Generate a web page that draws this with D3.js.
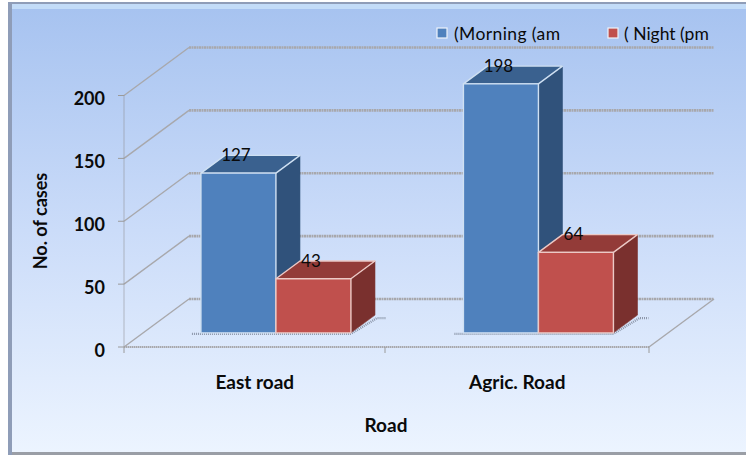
<!DOCTYPE html>
<html>
<head>
<meta charset="utf-8">
<script src="https://cdn.jsdelivr.net/npm/d3@7"></script>
<style>
html,body{margin:0;padding:0;background:#fff}
svg{display:block}
text{font-family:Lato,"Open Sans",sans-serif;fill:#0a0a0a}
</style>
</head>
<body>
<svg id="chart" width="746" height="456"></svg>
<script>
const categories = ["East road", "Agric. Road"];
const seriesNames = ["(Morning (am", "( Night (pm"];
const morning = [127, 198];
const night = [43, 64];
const yTicks = [0, 50, 100, 150, 200];

const palette = [
  {front: "#4f81bd", top: "#3a618f", side: "#30527b", edge: "#cfe0f2"},
  {front: "#c0504d", top: "#933b38", side: "#7a302e", edge: "#ecc9c6"}
];

const svg = d3.select("#chart");

// Chart panel: vertical gradient with a bevelled frame
const defs = svg.append("defs");
const grad = defs.append("linearGradient").attr("id", "panel")
  .attr("x1", 0).attr("y1", 0).attr("x2", 0).attr("y2", 1);
grad.append("stop").attr("offset", "0%").attr("stop-color", "#a7c3f0");
grad.append("stop").attr("offset", "50%").attr("stop-color", "#cbdcf9");
grad.append("stop").attr("offset", "100%").attr("stop-color", "#ecf4ff");

svg.append("rect").attr("x", 8).attr("y", 2).attr("width", 738).attr("height", 453).attr("fill", "#8f9db8");
svg.append("rect").attr("x", 12).attr("y", 4).attr("width", 734).attr("height", 5).attr("fill", "#c3dcf8");
svg.append("rect").attr("x", 12).attr("y", 9).attr("width", 734).attr("height", 443).attr("fill", "url(#panel)");
svg.append("rect").attr("x", 12).attr("y", 452).attr("width", 734).attr("height", 3).attr("fill", "#9a9ea6");

// Oblique projection: depth d runs 0 (front of floor) to 1 (back wall)
const depthX = 65, depthY = 48;
const y = d3.scaleLinear().domain([0, 200]).range([347, 95.5]);
const xCat = d3.scaleBand().domain(categories).range([124, 649]);
const xSer = d3.scaleBand().domain(seriesNames).range([0, xCat.bandwidth()])
  .paddingInner(0).paddingOuter(0.75);
const px = (x, d) => x + depthX * d;
const py = (v, d) => y(v) - depthY * d;
const barFront = 0.295, barBack = 0.665, barShift = 1.5;

const pts = list => list.map(p => p.join(",")).join(" ");
const xLeft = xCat.range()[0], xRight = xCat.range()[1];

// Gridlines: diagonal along the side wall, then across the back wall
const grid = svg.append("g").attr("fill", "none").attr("stroke", "#a8a8ac");
yTicks.forEach(t => {
  grid.append("line")
    .attr("x1", px(xLeft, 0)).attr("y1", py(t, 0))
    .attr("x2", px(xLeft, 1)).attr("y2", py(t, 1))
    .attr("stroke-width", 1.4);
  grid.append("line")
    .attr("x1", px(xLeft, 1)).attr("y1", py(t, 1))
    .attr("x2", px(xRight, 1)).attr("y2", py(t, 1))
    .attr("stroke-width", 2.6).attr("stroke-dasharray", "2 0.5");
});

// Floor edges and axis lines
const axisGrp = svg.append("g").attr("fill", "none").attr("stroke", "#a8a8ac");
axisGrp.append("line")
  .attr("x1", xLeft).attr("y1", y(0)).attr("x2", xRight).attr("y2", y(0))
  .attr("stroke-width", 1.8).attr("stroke-dasharray", "1.5 0.5");
axisGrp.append("line")
  .attr("x1", xRight).attr("y1", y(0)).attr("x2", px(xRight, 1)).attr("y2", py(0, 1))
  .attr("stroke-width", 1.4);
axisGrp.append("line")
  .attr("x1", xLeft).attr("y1", y(200)).attr("x2", xLeft).attr("y2", y(0))
  .attr("stroke-width", 1.1).attr("stroke-dasharray", "1 1").attr("stroke", "#8f8f92");
yTicks.forEach(t => {
  axisGrp.append("line").attr("x1", xLeft - 6).attr("x2", xLeft)
    .attr("y1", y(t)).attr("y2", y(t)).attr("stroke", "#9a9a9a");
});
[xLeft, xCat(categories[1]) - 1.5, xRight].forEach(x => {
  axisGrp.append("line").attr("x1", x).attr("x2", x)
    .attr("y1", y(0)).attr("y2", y(0) + 6).attr("stroke", "#9a9a9a");
});

// Bars, drawn as oblique boxes
const rows = categories.flatMap((c, i) => [
  {cat: c, ser: seriesNames[0], value: morning[i], color: palette[0]},
  {cat: c, ser: seriesNames[1], value: night[i], color: palette[1]}
]);

const bars = svg.append("g");
categories.forEach(c => {
  const group = rows.filter(r => r.cat === c);
  const x0 = xCat(c) + xSer(group[0].ser) + barShift;
  const x1 = xCat(c) + xSer(group[1].ser) + xSer.bandwidth() + barShift;

  // Soft dotted shadow around the foot of each cluster
  bars.append("polyline")
    .attr("points", pts([
      [px(x0 - 9, barFront), py(0, barFront) + 1],
      [px(x1, barFront), py(0, barFront) + 1],
      [px(x1, barBack) + 2, py(0, barBack) + 3],
      [px(x1, barBack) + 11, py(0, barBack) + 3]
    ]))
    .attr("fill", "none").attr("stroke", "#8d97aa")
    .attr("stroke-width", 2.4).attr("stroke-dasharray", "1 1");

  group.forEach(r => {
    const xa = px(xCat(r.cat) + xSer(r.ser) + barShift, barFront);
    const xb = xa + xSer.bandwidth();
    const xaB = px(xCat(r.cat) + xSer(r.ser) + barShift, barBack);
    const xbB = xaB + xSer.bandwidth();
    const yT = py(r.value, barFront), yB = py(0, barFront);
    const yTB = py(r.value, barBack), yBB = py(0, barBack);
    const g = bars.append("g")
      .attr("stroke", r.color.edge).attr("stroke-width", 1.4).attr("stroke-linejoin", "round");
    g.append("polygon").attr("fill", r.color.side)
      .attr("points", pts([[xb, yT], [xbB, yTB], [xbB, yBB], [xb, yB]]))
      .attr("stroke", r.color.side).attr("stroke-width", 0.6);
    g.append("polygon").attr("fill", r.color.top)
      .attr("points", pts([[xa, yT], [xaB, yTB], [xbB, yTB], [xb, yT]]));
    g.append("rect").attr("fill", r.color.front)
      .attr("x", xa).attr("y", yT).attr("width", xb - xa).attr("height", yB - yT);
  });
});

// Value labels sit over the rear edge of each bar top
svg.append("g").selectAll("text").data(rows).join("text")
  .attr("x", r => px(xCat(r.cat) + xSer(r.ser) + xSer.bandwidth() / 2, barFront) - 1)
  .attr("y", r => py(r.value, barFront) - 12)
  .attr("text-anchor", "middle")
  .style("font-size", "17px")
  .text(r => r.value);

// Tick and axis labels
svg.append("g").selectAll("text").data(yTicks).join("text")
  .attr("x", 105).attr("y", t => y(t) + 9.5)
  .attr("text-anchor", "end")
  .style("font-size", "18px").style("font-weight", 700)
  .text(t => t);

svg.append("g").selectAll("text").data(categories).join("text")
  .attr("x", c => xCat(c) + xCat.bandwidth() / 2 - 0.5).attr("y", 389)
  .attr("text-anchor", "middle")
  .style("font-size", "19px").style("font-weight", 700)
  .text(c => c);

svg.append("text").attr("x", 386).attr("y", 432).attr("text-anchor", "middle")
  .style("font-size", "19px").style("font-weight", 700).text("Road");

svg.append("text").attr("transform", "translate(47,221) rotate(-90)")
  .attr("text-anchor", "middle")
  .style("font-size", "18px").style("font-weight", 700).text("No. of cases");

// Legend
const legendX = [437, 608];
const legendSpacing = ["0.4px", "0px"];
const legend = svg.append("g").selectAll("g").data(seriesNames).join("g")
  .attr("transform", (d, i) => `translate(${legendX[i]},28)`);
legend.append("rect").attr("width", 10).attr("height", 10)
  .attr("fill", (d, i) => palette[i].front).attr("stroke", "#eef3fb").attr("stroke-width", 1.2);
legend.append("text").attr("x", (d, i) => i === 0 ? 17 : 16).attr("y", 11.5)
  .style("font-size", "17.5px").style("letter-spacing", (d, i) => legendSpacing[i])
  .text(d => d);
</script>
</body>
</html>
